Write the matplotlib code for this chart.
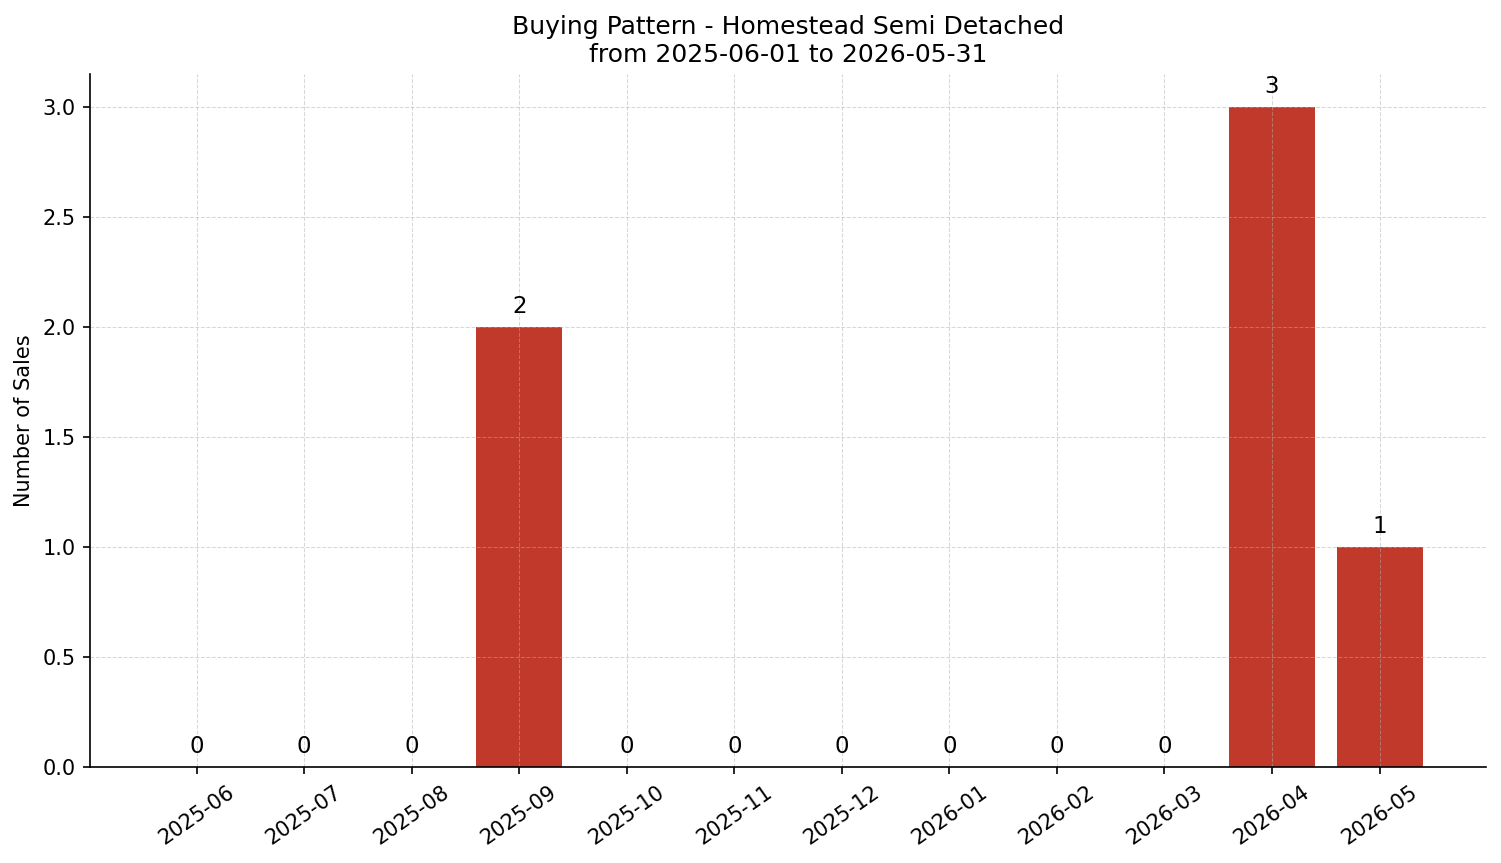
import matplotlib
matplotlib.use("Agg")
import matplotlib.pyplot as plt

months = ["2025-06", "2025-07", "2025-08", "2025-09", "2025-10", "2025-11",
          "2025-12", "2026-01", "2026-02", "2026-03", "2026-04", "2026-05"]
sales = [0, 0, 0, 2, 0, 0, 0, 0, 0, 0, 3, 1]

fig, ax = plt.subplots(figsize=(1501 / 150, 863 / 150), dpi=150)
fig.subplots_adjust(left=0.06, right=0.99, top=0.914, bottom=0.111)

x = range(len(months))
ax.bar(x, sales, width=0.8, color="#c0392b")
for xi, v in zip(x, sales):
    ax.text(xi, v + 0.04, str(v), ha="center", va="bottom", fontsize=11)

ax.set_xticks(list(x))
ax.set_xticklabels(months, rotation=35)
ax.set_ylabel("Number of Sales")
ax.set_title("Buying Pattern - Homestead Semi Detached\nfrom 2025-06-01 to 2026-05-31",
             fontsize=12)
# grid sits on top of the bars, faint dashed
ax.grid(True, linestyle="--", linewidth=0.5, alpha=0.5)
ax.spines["top"].set_visible(False)
ax.spines["right"].set_visible(False)

fig.savefig("out.png", dpi=150)
